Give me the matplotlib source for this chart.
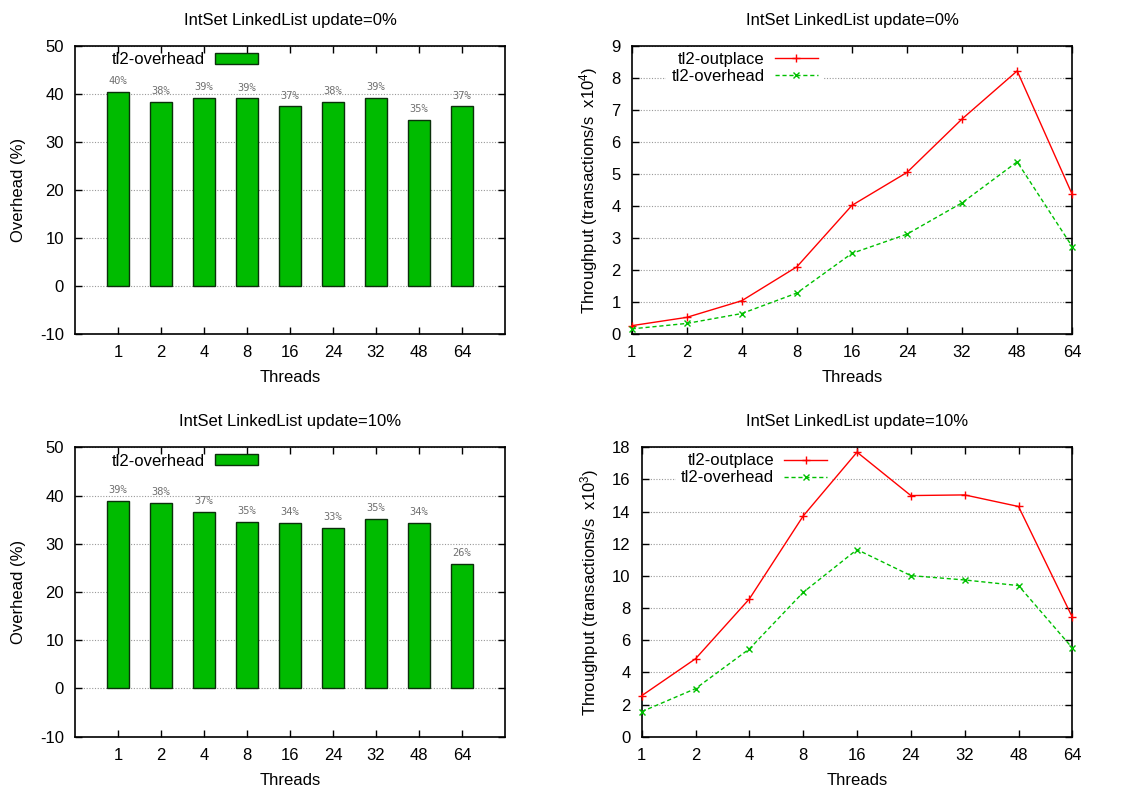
import matplotlib
matplotlib.use("Agg")
import matplotlib.pyplot as plt
import numpy as np

plt.rcParams['font.family'] = ['Liberation Sans', 'DejaVu Sans']
plt.rcParams['mathtext.fontset'] = 'custom'
plt.rcParams['mathtext.rm'] = 'Liberation Sans'
plt.rcParams['mathtext.it'] = 'Liberation Sans'
plt.rcParams['axes.unicode_minus'] = False

# Thread counts (categorical x axis)
threads = ["1", "2", "4", "8", "16", "24", "32", "48", "64"]

# Overhead (%) of tl2 versus tl2-outplace
overhead_u0 = [40.4, 38.4, 39.2, 39.1, 37.4, 38.4, 39.2, 34.6, 37.4]
overhead_u10 = [38.9, 38.4, 36.6, 34.6, 34.3, 33.3, 35.1, 34.4, 25.9]

# Throughput, update=0% (x10^4 transactions/s)
outplace_u0 = [0.26, 0.52, 1.04, 2.10, 4.02, 5.05, 6.72, 8.22, 4.36]
ovh_tp_u0 = [0.16, 0.33, 0.64, 1.28, 2.52, 3.12, 4.10, 5.38, 2.73]

# Throughput, update=10% (x10^3 transactions/s)
outplace_u10 = [2.55, 4.85, 8.57, 13.73, 17.70, 15.00, 15.04, 14.32, 7.43]
ovh_tp_u10 = [1.56, 2.99, 5.46, 8.98, 11.64, 10.02, 9.75, 9.40, 5.52]

FS = 12
BAR_GREEN = '#00bb00'
LINE_GREEN = '#00c000'
GRID_KW = dict(color='#999999', linestyle=(0, (1, 1.5)), linewidth=0.8)

fig = plt.figure(figsize=(11.25, 7.87), dpi=100)


def style_axes(ax):
    for sp in ax.spines.values():
        sp.set_linewidth(1.2)
        sp.set_color('black')
    ax.tick_params(direction='in', length=5, width=1.0, top=True, right=True,
                   labelsize=FS, colors='black')
    ax.tick_params(axis='y', pad=8)
    ax.tick_params(axis='x', pad=8)


def bar_panel(rect, values, title):
    ax = fig.add_axes(rect)
    x = np.arange(len(threads))
    ax.set_axisbelow(True)
    ax.yaxis.grid(True, **GRID_KW)
    ax.bar(x, values, width=0.5, color=BAR_GREEN, edgecolor='#0b300b',
           linewidth=1.0, label='tl2-overhead')
    for xi, v in zip(x, values):
        ax.text(xi, v + 1.2, f"{round(v)}%", ha='center', va='bottom',
                fontsize=7.5, color='#707070', family='DejaVu Sans Mono')
    ax.set_xlim(-1, len(threads))
    ax.set_ylim(-10, 50)
    ax.set_yticks(np.arange(-10, 51, 10))
    ax.set_xticks(x)
    ax.set_xticklabels(threads)
    ax.set_xlabel('Threads', fontsize=FS, labelpad=7)
    ax.set_ylabel('Overhead (%)', fontsize=FS, labelpad=10)
    ax.set_title(title, fontsize=FS, pad=15)
    style_axes(ax)
    ax.legend(loc='upper left', bbox_to_anchor=(0.05, 1.03), frameon=False,
              markerfirst=False, fontsize=FS, handlelength=2.6,
              handleheight=0.6, handletextpad=0.6)
    return ax


def line_panel(rect, a, b, ylim, yticks, exp, title):
    ax = fig.add_axes(rect)
    x = np.arange(len(threads))
    ax.yaxis.grid(True, **GRID_KW)
    ax.plot(x, a, color='#ff0000', linewidth=1.0, marker='+', markersize=6,
            markeredgewidth=1.0, label='tl2-outplace', clip_on=False, zorder=6)
    ax.plot(x, b, color=LINE_GREEN, linewidth=1.0, linestyle=(0, (3, 2)),
            marker='x', markersize=5, markeredgewidth=1.0, label='tl2-overhead',
            clip_on=False, zorder=6)
    ax.set_xlim(0, len(threads) - 1)
    ax.set_ylim(*ylim)
    ax.set_yticks(yticks)
    ax.set_xticks(x)
    ax.set_xticklabels(threads)
    ax.set_xlabel('Threads', fontsize=FS, labelpad=7)
    ax.set_ylabel(r'Throughput (transactions/s  x10$^{%d}$)' % exp, fontsize=FS,
                  labelpad=8)
    ax.set_title(title, fontsize=FS, pad=15)
    style_axes(ax)
    leg = ax.legend(loc='upper left', bbox_to_anchor=(0.06, 1.025), frameon=True,
                    markerfirst=False, fontsize=FS, handlelength=2.6,
                    handletextpad=0.6, labelspacing=0.12, borderpad=0.3)
    leg.get_frame().set_facecolor('white')
    leg.get_frame().set_edgecolor('none')
    leg.get_frame().set_alpha(1.0)
    for t in leg.get_texts():
        t.set_ha('right')
    return ax


bar_panel([0.0667, 0.5756, 0.3822, 0.366], overhead_u0,
          'IntSet LinkedList update=0%')
line_panel([0.5615, 0.5756, 0.3916, 0.366], outplace_u0, ovh_tp_u0,
           (0, 9), np.arange(0, 10, 1), 4, 'IntSet LinkedList update=0%')
bar_panel([0.0667, 0.0639, 0.3822, 0.3677], overhead_u10,
          'IntSet LinkedList update=10%')
line_panel([0.5704, 0.0639, 0.3828, 0.3677], outplace_u10, ovh_tp_u10,
           (0, 18), np.arange(0, 19, 2), 3, 'IntSet LinkedList update=10%')

fig.savefig('out.png', dpi=100)
